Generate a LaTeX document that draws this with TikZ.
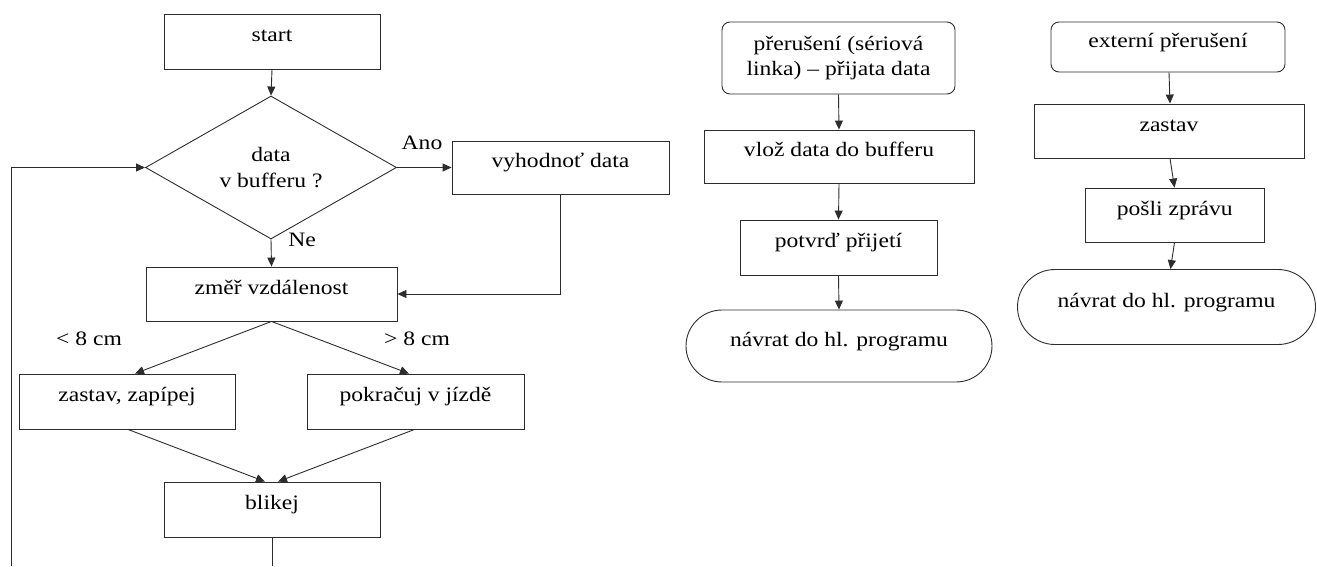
\documentclass[tikz,border=0pt]{standalone}
\usepackage{fontspec}
\setmainfont[FakeStretch=1.15]{Liberation Serif}
\usetikzlibrary{arrows.meta,shapes.geometric,shapes.misc}
\definecolor{linecol}{RGB}{45,45,45}
\begin{document}
\begin{tikzpicture}[x=1pt,y=-1pt,
  font=\rmfamily\fontsize{20.5}{25.5}\selectfont,
  base/.style={draw=linecol,line width=0.9pt,inner sep=0pt,text height=0.7em,text depth=0.7em},
  pbox/.style={base,rectangle},
  rbox/.style={draw=linecol,line width=0.9pt,rectangle,rounded corners=8pt,inner sep=0pt,align=center},
  stad/.style={base,rounded rectangle},
  decbox/.style={draw=linecol,line width=0.9pt,diamond,inner sep=0pt,align=center},
  arr/.style={draw=linecol,line width=0.9pt,-{Triangle[length=9pt,width=8pt]}},
  plain/.style={draw=linecol,line width=0.9pt},
  lbl/.style={inner sep=0pt}]
\useasboundingbox (0,0) rectangle (1317,566);

% left flowchart
\node[pbox,minimum width=216pt,minimum height=55pt] (start) at (272,41.5) {start};
\node[decbox,minimum width=251pt,minimum height=125pt] (dec) at (271,167.5) {data\\v bufferu ?};
\node[pbox,minimum width=217pt,minimum height=53pt] (vyh) at (560.5,167.5) {vyhodnoť data};
\node[pbox,minimum width=251pt,minimum height=54pt] (zmer) at (271.5,294) {změř vzdálenost};
\node[pbox,minimum width=216pt,minimum height=55pt] (zast) at (127,401.5) {zastav, zapípej};
\node[pbox,minimum width=217pt,minimum height=55pt] (pokr) at (415.5,401.5) {pokračuj v jízdě};
\node[pbox,minimum width=216pt,minimum height=55pt] (blik) at (272,509.5) {blikej};

\node[lbl] (ano) at (422,143) {Ano};
\node[lbl] (ne) at (302,240) {Ne};
\node[lbl] (lt) at (89,339) {< 8 cm};
\node[lbl] (gt) at (417,339) {> 8 cm};

\coordinate (blikend) at (272,566);
\coordinate (loopstart) at (11.5,566);

\draw[arr] (start.south) -- (dec.north);
\draw[arr] (dec.east) -- (vyh.west);
\draw[arr] (vyh.south) |- (zmer.east);
\draw[arr] (dec.south) -- (zmer.north);
\draw[arr] (zmer.south) -- ([xshift=8pt]zast.north);
\draw[arr] (zmer.south) -- ([xshift=-6.5pt]pokr.north);
\draw[arr] ([xshift=1pt]zast.south) -- ([xshift=-7pt]blik.north);
\draw[arr] ([xshift=-1pt]pokr.south) -- ([xshift=6pt]blik.north);
\draw[plain] (blik.south) -- (blikend);
\draw[arr] (loopstart) |- (dec.west);

% middle flowchart
\node[rbox,minimum width=233pt,minimum height=72pt] (int1) at (838.5,58) {přerušení (sériová\\linka) – přijata data};
\node[pbox,minimum width=270pt,minimum height=53pt] (vloz) at (839,156.5) {vlož data do bufferu};
\node[pbox,minimum width=197pt,minimum height=55pt] (potv) at (838.5,247.5) {potvrď přijetí};
\node[stad,minimum width=306pt,minimum height=72pt] (nav1) at (839,346) {návrat do hl. programu};

\draw[arr] (int1.south) -- (vloz.north);
\draw[arr] (vloz.south) -- (potv.north);
\draw[arr] (potv.south) -- (nav1.north);

% right flowchart
\node[rbox,minimum width=234pt,minimum height=50pt,text height=0.7em,text depth=0.7em] (int2) at (1168,47) {externí přerušení};
\node[pbox,minimum width=270pt,minimum height=54pt] (zst) at (1169,131) {zastav};
\node[pbox,minimum width=179.5pt,minimum height=54pt] (posl) at (1174.8,215) {pošli zprávu};
\node[stad,minimum width=298pt,minimum height=75pt] (nav2) at (1166.5,307) {návrat do hl. programu};

\draw[arr] ([xshift=1pt]int2.south) -- ([xshift=1pt]zst.north);
\draw[arr] ([xshift=1pt]zst.south) -- ([xshift=-0.3pt]posl.north);
\draw[arr] ([xshift=-0.3pt]posl.south) -- ([xshift=4pt]nav2.north);
\end{tikzpicture}
\end{document}
